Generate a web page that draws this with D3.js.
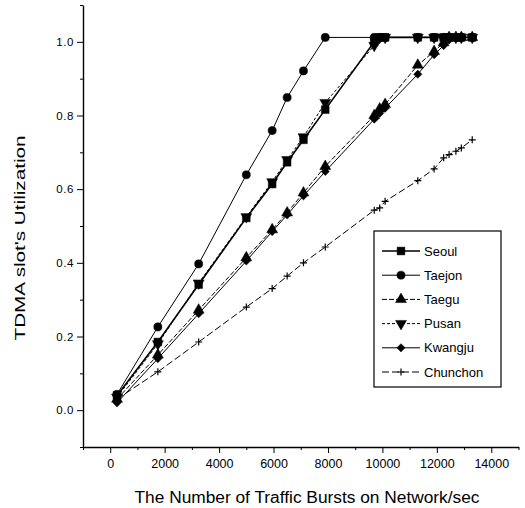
<!DOCTYPE html>
<html lang="en">
	<head>
		<meta charset="utf-8">
		<title>TDMA slot utilization</title>
		<script type="text/javascript" src="https://cdn.jsdelivr.net/npm/d3@7"></script>
		<style type="text/css">
			body{
				margin: 0;
				background: #fff;
			}
			svg{
				font-family: "Liberation Sans", Arial, sans-serif;
			}
		</style>
	</head>
	<body>
		<script type="text/javascript">

			//Data
			var bursts = [250, 1750, 3250, 5000, 5950, 6500, 7100, 7900, 9700, 9900, 10100, 11300, 11900, 12250, 12450, 12700, 12900, 13300];
			var seoul    = [0.040, 0.185, 0.341, 0.522, 0.614, 0.673, 0.734, 0.816, 1.000, 1.012, 1.012, 1.012, 1.012, 1.012, 1.012, 1.012, 1.012, 1.012];
			var taejon   = [0.043, 0.226, 0.397, 0.639, 0.759, 0.849, 0.921, 1.012, 1.012, 1.012, 1.012, 1.012, 1.012, 1.012, 1.012, 1.012, 1.012, 1.012];
			var taegu    = [0.030, 0.150, 0.272, 0.414, 0.490, 0.536, 0.590, 0.662, 0.800, 0.818, 0.830, 0.937, 0.974, 0.998, 1.012, 1.012, 1.012, 1.012];
			var pusan    = [0.035, 0.180, 0.345, 0.525, 0.620, 0.680, 0.742, 0.835, 0.990, 1.012, 1.012, 1.012, 1.012, 1.012, 1.012, 1.012, 1.012, 1.012];
			var kwangju  = [0.020, 0.140, 0.262, 0.405, 0.485, 0.530, 0.582, 0.648, 0.790, 0.806, 0.820, 0.912, 0.965, 0.990, 1.005, 1.012, 1.012, 1.012];
			var chunchon = [0.030, 0.104, 0.185, 0.280, 0.330, 0.364, 0.400, 0.443, 0.543, 0.549, 0.567, 0.623, 0.655, 0.685, 0.694, 0.703, 0.712, 0.734];

			var names = ["Seoul", "Taejon", "Taegu", "Pusan", "Kwangju", "Chunchon"];
			var values = [seoul, taejon, taegu, pusan, kwangju, chunchon];
			var xMajor = [0, 2000, 4000, 6000, 8000, 10000, 12000, 14000];
			var yMajor = [0.0, 0.2, 0.4, 0.6, 0.8, 1.0];

			//marker + line style for each city
			var plus = "M-3.5,0H3.5M0,-3.5V3.5";
			var styles = [
				{shape: d3.symbol(d3.symbolSquare, 60)(), rot: 0, dash: null, w: 1.6},
				{shape: d3.symbol(d3.symbolCircle, 52)(), rot: 0, dash: null, w: 1},
				{shape: d3.symbol(d3.symbolTriangle, 52)(), rot: 0, dash: "5,2", w: 1},
				{shape: d3.symbol(d3.symbolTriangle, 52)(), rot: 180, dash: "3,2", w: 1},
				{shape: d3.symbol(d3.symbolSquare, 34)(), rot: 45, dash: null, w: 1},
				{shape: plus, rot: 0, dash: "7,3", w: 1}
			];

			var svg = d3.select("body")
						.append("svg")
						.attr("width", 525)
						.attr("height", 508);

			var x = d3.scaleLinear().domain([-1000, 15000]).range([83, 518.5]);
			var y = d3.scaleLinear().domain([-0.1, 1.1]).range([447, 5]);

			//x axis, ticks pointing down
			var xAxis = svg.append("g")
						.attr("transform", "translate(0,447)")
						.call(d3.axisBottom(x).tickValues(xMajor).tickSize(6).tickSizeOuter(0).tickPadding(6).tickFormat(d3.format("d")));
			xAxis.selectAll(".tick text").attr("font-size", 12.5).attr("font-family", "Liberation Sans, Arial, sans-serif");
			xAxis.append("g")
				.call(d3.axisBottom(x).tickValues(d3.range(-1000, 15001, 2000)).tickSize(3).tickFormat(""))
				.select(".domain").remove();

			//y axis, ticks pointing left
			var yAxis = svg.append("g")
						.attr("transform", "translate(83,0)")
						.call(d3.axisLeft(y).tickValues(yMajor).tickSize(6).tickSizeOuter(0).tickPadding(3).tickFormat(d3.format(".1f")));
			yAxis.selectAll(".tick text").attr("font-size", 11.5).attr("font-family", "Liberation Sans, Arial, sans-serif").attr("letter-spacing", 0.6);
			yAxis.append("g")
				.call(d3.axisLeft(y).tickValues([-0.1, 0.1, 0.3, 0.5, 0.7, 0.9, 1.1]).tickSize(3).tickFormat(""))
				.select(".domain").remove();

			svg.selectAll(".domain").attr("stroke-width", 1.4);

			//axis titles
			svg.append("text")
				.attr("x", 307)
				.attr("y", 503)
				.attr("text-anchor", "middle")
				.attr("font-size", 16)
				.attr("textLength", 345)
				.attr("lengthAdjust", "spacingAndGlyphs")
				.text("The Number of Traffic Bursts on Network/sec");

			svg.append("text")
				.attr("transform", "translate(25,238) rotate(-90)")
				.attr("text-anchor", "middle")
				.attr("font-size", 15.5)
				.attr("textLength", 205)
				.attr("lengthAdjust", "spacingAndGlyphs")
				.text("TDMA slot's Utilization");

			//lines and markers
			var line = d3.line()
						.x(function(d, i) {return x(bursts[i]);})
						.y(function(d) {return y(d);});

			var series = svg.append("g").attr("class", "series");

			values.forEach(function(vals, k) {
				var st = styles[k];
				series.append("path")
					.attr("d", line(vals))
					.attr("fill", "none")
					.attr("stroke", "#000")
					.attr("stroke-width", st.w)
					.attr("stroke-dasharray", st.dash);

				series.selectAll(".m" + k)
					.data(vals)
					.enter()
					.append("path")
					.attr("class", "m" + k)
					.attr("d", st.shape)
					.attr("transform", function(d, i) {return "translate(" + x(bursts[i]) + "," + y(d) + ") rotate(" + st.rot + ")";})
					.attr("fill", "#000")
					.attr("stroke", "#000")
					.attr("stroke-width", k == 5 ? 1.2 : 0.5);
			});

			//legend
			var legend = svg.append("g").attr("class", "legend");
			legend.append("rect")
				.attr("x", 374)
				.attr("y", 231)
				.attr("width", 127)
				.attr("height", 156)
				.attr("fill", "#fff")
				.attr("stroke", "#000")
				.attr("stroke-width", 1.2);

			names.forEach(function(n, k) {
				var st = styles[k];
				var ly = 251 + k * 24.2;
				legend.append("line")
					.attr("x1", 382)
					.attr("x2", 420)
					.attr("y1", ly)
					.attr("y2", ly)
					.attr("stroke", "#000")
					.attr("stroke-width", st.w)
					.attr("stroke-dasharray", st.dash);
				legend.append("path")
					.attr("d", st.shape)
					.attr("transform", "translate(401," + ly + ") rotate(" + st.rot + ")")
					.attr("fill", "#000")
					.attr("stroke", "#000")
					.attr("stroke-width", k == 5 ? 1.2 : 0.5);
				legend.append("text")
					.attr("x", 424)
					.attr("y", ly + 4.5)
					.attr("font-size", 13)
					.text(n);
			});

		</script>
	</body>
</html>
